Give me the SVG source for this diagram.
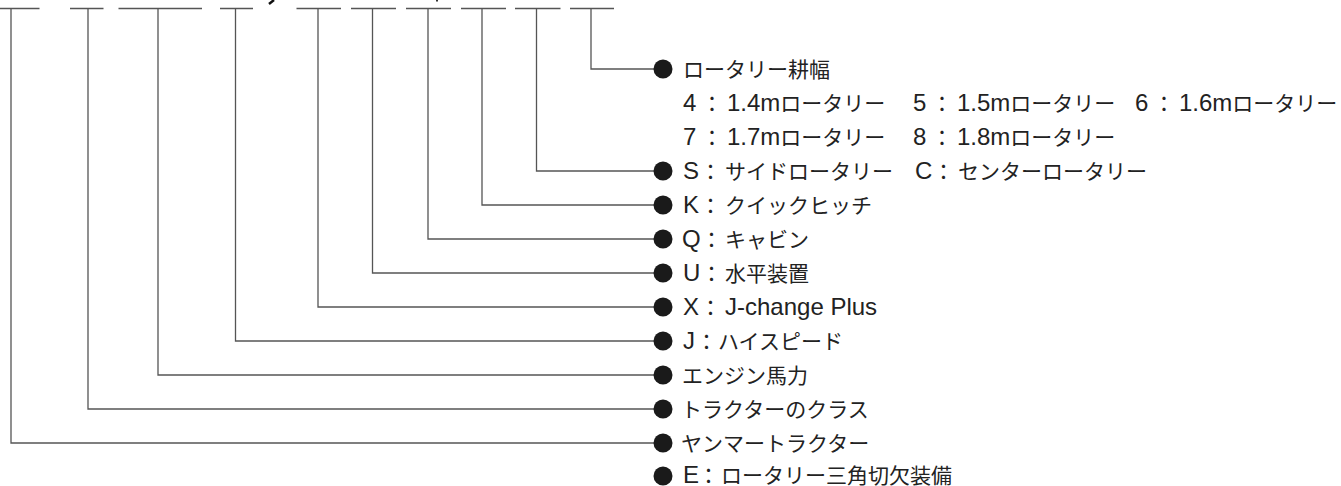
<svg xmlns="http://www.w3.org/2000/svg" width="1341" height="486" viewBox="0 0 1341 486">
<style>
.ln{fill:none;stroke:#555;stroke-width:1.3}
.dot{fill:#1a1a1a}
.t{font-family:"Liberation Sans","Noto Sans CJK JP",sans-serif;font-size:21px;fill:#222}
.l{font-size:24px}
</style>
<rect width="1341" height="486" fill="#fff"/>
<g id="connectors" class="ln">
<path d="M0 8.5H39.5M70 8.5H103.5M118.5 8.5H202M220 8.5H253M296.5 8.5H341M351 8.5H396M406 8.5H451M461 8.5H506M515 8.5H560.5M570 8.5H614"/>
<path d="M591 8.5V69H663"/>
<path d="M536.5 8.5V171H663"/>
<path d="M482 8.5V205H663"/>
<path d="M428 8.5V239H663"/>
<path d="M372.5 8.5V273H663"/>
<path d="M318 8.5V307H663"/>
<path d="M235.5 8.5V341H663"/>
<path d="M158 8.5V375H663"/>
<path d="M88 8.5V409H663"/>
<path d="M11 8.5V443H663"/>
<path d="M274 0L269 4" style="stroke:#111;stroke-width:2.5"/>
<path d="M437 0V1.5" style="stroke:#333;stroke-width:2"/>
</g>
<g id="n-rotary-width">
<circle class="dot" cx="663" cy="69" r="9.5"/>
<text class="t" x="683" y="76.5">ロータリー耕幅</text>
<text class="t" y="111"><tspan class="l" x="683">4</tspan><tspan x="701.5">：</tspan><tspan class="l" x="727">1.4m</tspan><tspan>ロータリー</tspan><tspan class="l" x="913">5</tspan><tspan x="931.5">：</tspan><tspan class="l" x="957">1.5m</tspan><tspan>ロータリー</tspan><tspan class="l" x="1135">6</tspan><tspan x="1153.5">：</tspan><tspan class="l" x="1179">1.6m</tspan><tspan>ロータリー</tspan></text>
<text class="t" y="145"><tspan class="l" x="683">7</tspan><tspan x="701.5">：</tspan><tspan class="l" x="727">1.7m</tspan><tspan>ロータリー</tspan><tspan class="l" x="913">8</tspan><tspan x="931.5">：</tspan><tspan class="l" x="957">1.8m</tspan><tspan>ロータリー</tspan></text>
</g>
<g id="n-side">
<circle class="dot" cx="663" cy="171" r="9.5"/>
<text class="t" y="179"><tspan class="l" x="683">S</tspan><tspan x="700">：</tspan><tspan x="725">サイドロータリー</tspan><tspan class="l" x="915">C</tspan><tspan x="933">：</tspan><tspan x="958">センターロータリー</tspan></text>
</g>
<g id="n-k">
<circle class="dot" cx="663" cy="205" r="9.5"/>
<text class="t" y="213"><tspan class="l" x="683">K</tspan><tspan x="700">：</tspan><tspan x="725">クイックヒッチ</tspan></text>
</g>
<g id="n-q">
<circle class="dot" cx="663" cy="239" r="9.5"/>
<text class="t" y="247"><tspan class="l" x="682">Q</tspan><tspan x="701">：</tspan><tspan x="725">キャビン</tspan></text>
</g>
<g id="n-u">
<circle class="dot" cx="663" cy="273" r="9.5"/>
<text class="t" y="281"><tspan class="l" x="683">U</tspan><tspan x="701">：</tspan><tspan x="725">水平装置</tspan></text>
</g>
<g id="n-x">
<circle class="dot" cx="663" cy="307" r="9.5"/>
<text class="t" y="315"><tspan class="l" x="683">X</tspan><tspan x="700">：</tspan><tspan class="l" x="725">J-change Plus</tspan></text>
</g>
<g id="n-j">
<circle class="dot" cx="663" cy="341" r="9.5"/>
<text class="t" y="349"><tspan class="l" x="683">J</tspan><tspan x="696">：</tspan><tspan x="718">ハイスピード</tspan></text>
</g>
<g id="n-engine">
<circle class="dot" cx="663" cy="375" r="9.5"/>
<text class="t" x="682" y="382.5">エンジン馬力</text>
</g>
<g id="n-class">
<circle class="dot" cx="663" cy="409" r="9.5"/>
<text class="t" x="681" y="416.5">トラクターのクラス</text>
</g>
<g id="n-yanmar">
<circle class="dot" cx="663" cy="443" r="9.5"/>
<text class="t" x="681" y="450.5">ヤンマートラクター</text>
</g>
<g id="n-e">
<circle class="dot" cx="663" cy="476" r="9.5"/>
<text class="t" y="483"><tspan class="l" x="683">E</tspan><tspan x="698">：</tspan><tspan x="721">ロータリー三角切欠装備</tspan></text>
</g>
</svg>
